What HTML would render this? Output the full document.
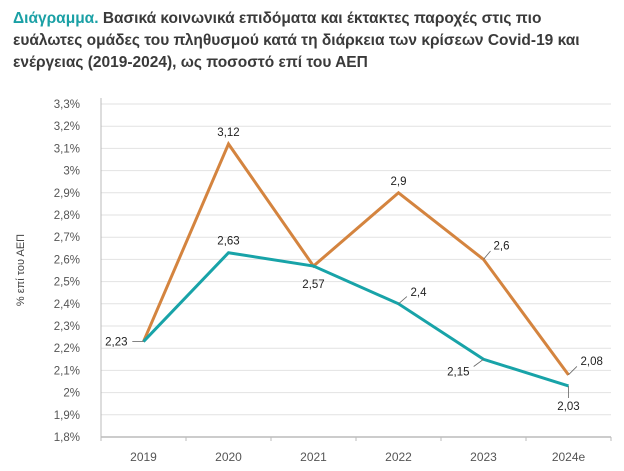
<!DOCTYPE html>
<html><head><meta charset="utf-8"><style>
body{margin:0;background:#fff;}
svg{display:block;font-family:"Liberation Sans",sans-serif;}
</style></head><body>
<svg width="624" height="471" viewBox="0 0 624 471">
<text x="13" y="23" font-size="15.5" font-weight="bold" fill="#3a3a3a"><tspan fill="#1aa0a5">Διάγραμμα.</tspan> Βασικά κοινωνικά επιδόματα και έκτακτες παροχές στις πιο</text>
<text x="13" y="45" font-size="15.5" font-weight="bold" fill="#3a3a3a">ευάλωτες ομάδες του πληθυσμού κατά τη διάρκεια των κρίσεων Covid-19 και</text>
<text x="13" y="67" font-size="15.5" font-weight="bold" fill="#3a3a3a">ενέργειας (2019-2024), ως ποσοστό επί του ΑΕΠ</text>
<text transform="translate(24,270) rotate(-90)" text-anchor="middle" font-size="11" fill="#444">% επί του ΑΕΠ</text>
<g id="grid"></g><g id="axes"></g><g id="series"></g><g id="labels"></g>
</svg>
<script>
const categories=["2019","2020","2021","2022","2023","2024e"];
const tealValues=[2.23,2.63,2.57,2.4,2.15,2.03];
const orangeValues=[2.23,3.12,2.57,2.9,2.6,2.08];
const yTicks=[1.8,1.9,2.0,2.1,2.2,2.3,2.4,2.5,2.6,2.7,2.8,2.9,3.0,3.1,3.2,3.3];
const tealLabels=["","2,63","","2,4","2,15","2,03"];
const orangeLabels=["2,23","3,12","2,57","2,9","2,6","2,08"];
const NS="http://www.w3.org/2000/svg";
const L=101,R=611,T=104,B=437,ymin=1.8,ymax=3.3;
const bw=(R-L)/categories.length;
const xs=i=>L+bw*(i+0.5);
const ys=v=>B-(v-ymin)/(ymax-ymin)*(B-T);
function mk(tag,at,parent,txt){const e=document.createElementNS(NS,tag);for(const k in at)e.setAttribute(k,at[k]);if(txt!=null)e.textContent=txt;document.getElementById(parent).appendChild(e);return e;}
yTicks.forEach((v,i)=>{
 const y=ys(v);
 if(i>0){const g=mk("line",{x1:L,x2:R,y1:y,y2:y,stroke:"#e2e2e2","stroke-width":1},"grid");
 
 }
 const t=mk("text",{x:80,y:y+4,"text-anchor":"end","font-size":11.5,fill:"#555"},"axes",(Math.round(v*10)/10).toString().replace(".",",")+"%");
 
 
});
const ax=mk("line",{x1:L,x2:L,y1:T-6,y2:B,stroke:"#bbb"},"axes");


const bx=mk("line",{x1:L,x2:R,y1:B,y2:B,stroke:"#bbb","stroke-width":1.5},"axes");


for(let i=0;i<=categories.length;i++){const tk=mk("line",{x1:L+bw*i,x2:L+bw*i,y1:B,y2:B+4,stroke:"#bbb"},"axes");
 
 }
categories.forEach((c,i)=>{const t=mk("text",{x:xs(i),y:B+24,"text-anchor":"middle","font-size":12,fill:"#555"},"axes",c);
 
 });
function line(vals,color,name){
 const p=mk("polyline",{points:vals.map((v,i)=>xs(i)+","+ys(v)).join(" "),fill:"none",stroke:color,"stroke-width":3,"stroke-linejoin":"miter"},"series");
 
 
}
line(orangeValues,"#d4843f","orange-series-line");
line(tealValues,"#18a3a8","teal-series-line");
const tealOff=[null,[0,-12,"middle",0],null,[12,-12,"start",1],[-14,12,"end",1],[0,20,"middle",1]];
const orangeOff=[[-16,0,"end",1],[0,-12,"middle",0],[0,18,"middle",0],[0,-12,"middle",0],[10,-14,"start",1],[12,-14,"start",1]];
function labels(vals,labs,offs,name){
 vals.forEach((v,i)=>{const o=offs[i];if(!o||!labs[i])return;
  const x=xs(i),y=ys(v);
  if(o[3]){const ln=mk("line",{x1:x,y1:y,x2:x+o[0]*0.7,y2:y+o[1]*0.6,stroke:"#666","stroke-width":0.8},"labels");
   
   }
  const t=mk("text",{x:x+o[0],y:y+o[1]+4,"text-anchor":o[2],"font-size":11.5,fill:"#222"},"labels",labs[i]);
  
  
 });
}
labels(tealValues,tealLabels,tealOff,"teal-data-label");
labels(orangeValues,orangeLabels,orangeOff,"orange-data-label");
</script>
</body></html>
